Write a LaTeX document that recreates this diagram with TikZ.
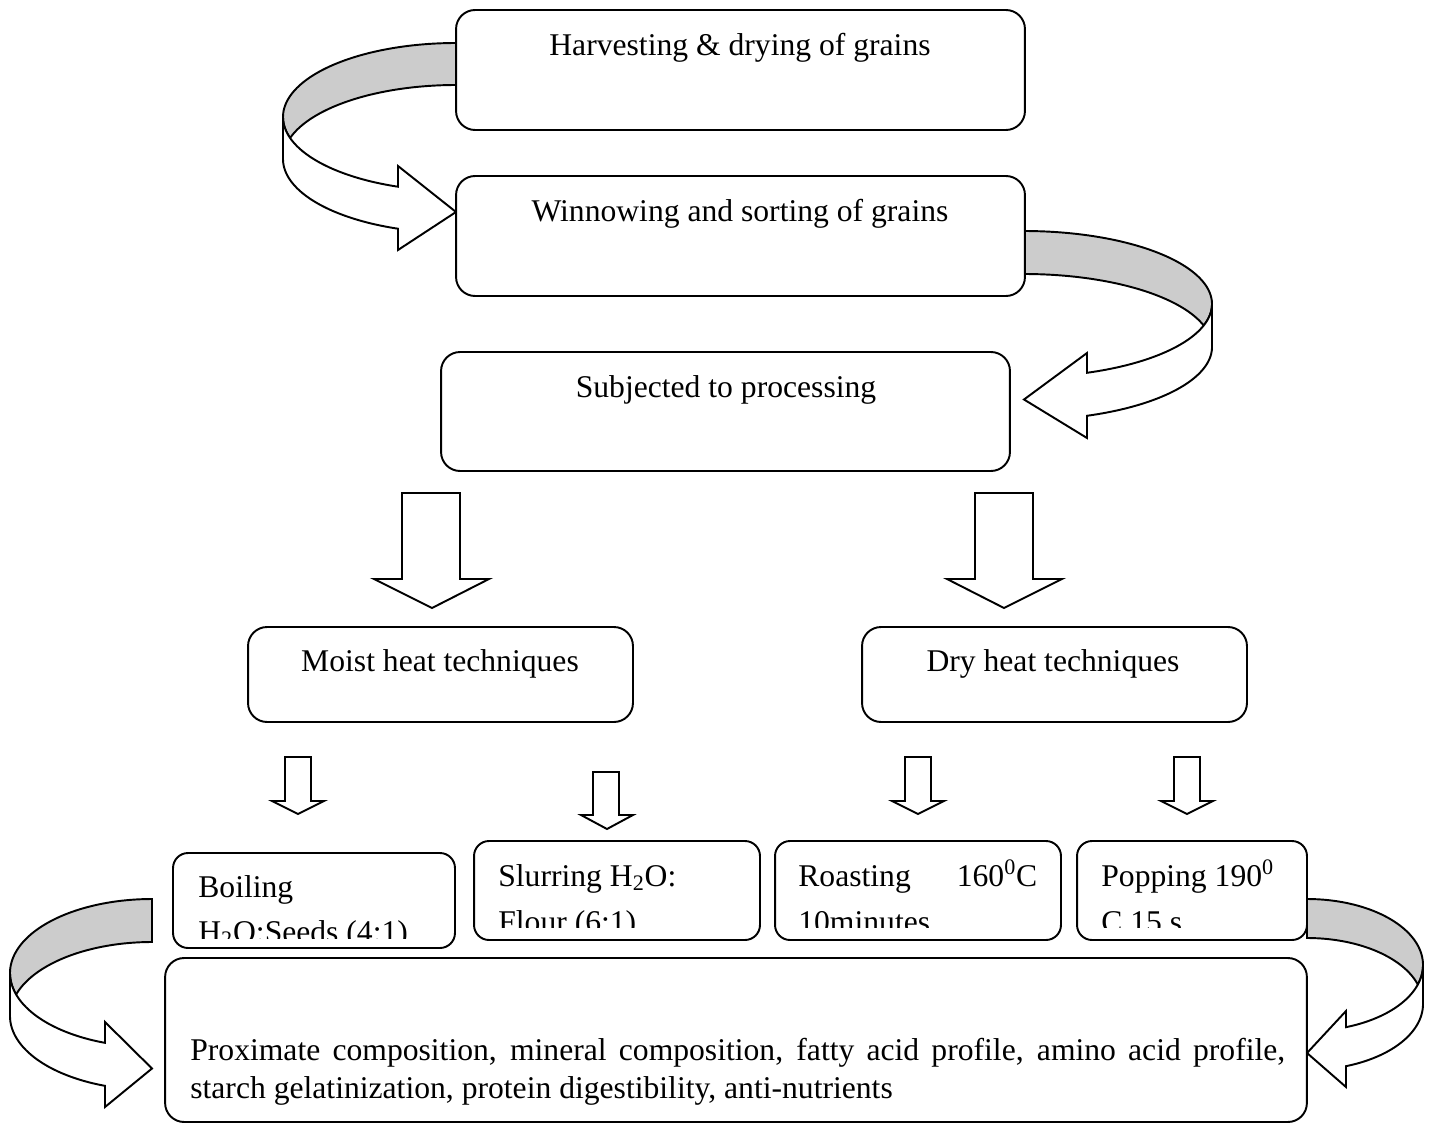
\documentclass[tikz,border=0pt]{standalone}
\usepackage{fontspec}
\setmainfont{Liberation Serif}
\definecolor{ribbongray}{HTML}{CCCCCC}
\tikzset{
  box/.style={draw, rectangle, rounded corners=0.38cm, line width=1.1pt, fill=white, inner sep=0pt},
  sbox/.style={box, rounded corners=0.3cm},
  lbl/.style={inner sep=0pt, anchor=base, font=\fontsize{18}{22}\selectfont},
  lblw/.style={inner sep=0pt, anchor=base west, font=\fontsize{18}{22}\selectfont},
  blockline/.style={line width=1.1pt, line join=miter}
}
% curved block arrow: cx, cy, dir, rx, ry, thickness, head-back x, barb top y, barb bottom y
\newcommand{\cArrowShape}[9]{%
  \pgfmathsetmacro\cAtone{acos(-(#6)/(2*(#5)))}%
  \pgfmathsetmacro\cAttwo{180-\cAtone}%
  \pgfmathsetmacro\cAthead{180-asin(abs((#7)-(#1))/(#4))}%
  \pgfmathsetmacro\cAtip{((#8)+(#9))/2+4}%
  \filldraw[blockline, fill=ribbongray]
    plot[domain=0:\cAtone, samples=60, variable=\t] ({#1+(#3)*#4*sin(\t)},{#2-#5*cos(\t)})
    -- plot[domain=\cAttwo:0, samples=60, variable=\t] ({#1+(#3)*#4*sin(\t)},{#2+#6-#5*cos(\t)})
    -- cycle;
  \filldraw[blockline, fill=white]
    ({#1+(#3)*#4},{#2}) -- ({#1+(#3)*#4},{#2+#6})
    -- plot[domain=90:\cAthead, samples=60, variable=\t] ({#1+(#3)*#4*sin(\t)},{#2+#6-#5*cos(\t)})
    -- (#7,#9) -- (#1,\cAtip) -- (#7,#8)
    -- plot[domain=\cAthead:90, samples=60, variable=\t] ({#1+(#3)*#4*sin(\t)},{#2-#5*cos(\t)})
    -- cycle;
}
% straight down block arrow: shaft left, shaft right, top, shaft bottom, head left, head right, tip x, tip y
\newcommand{\dArrowShape}[8]{%
  \filldraw[blockline, fill=white] (#1,#3) -- (#2,#3) -- (#2,#4) -- (#6,#4) -- (#7,#8) -- (#5,#4) -- (#1,#4) -- cycle;
}
\begin{document}
\begin{tikzpicture}[x=0.02cm, y=-0.02cm]
\useasboundingbox (0,0) rectangle (1436,1132);

% curved arrows
\cArrowShape{456}{117}{-1}{173}{74}{42}{398}{166}{250}
\cArrowShape{1024}{304}{1}{188}{73}{43}{1087}{353}{438}
\cArrowShape{152}{973}{-1}{142}{74}{43}{105}{1022}{1107}
\cArrowShape{1307}{965}{1}{116}{66}{39}{1346}{1011}{1087}

% boxes
\node[box, minimum width=11.38cm, minimum height=2.4cm] (harvest) at (740.5,70) {};
\node[box, minimum width=11.38cm, minimum height=2.4cm] (winnow) at (740.5,236) {};
\node[box, minimum width=11.38cm, minimum height=2.38cm] (process) at (725.5,411.5) {};
\node[box, minimum width=7.7cm, minimum height=1.9cm] (moist) at (440.5,674.5) {};
\node[box, minimum width=7.7cm, minimum height=1.9cm] (dry) at (1054.5,674.5) {};
\node[sbox, minimum width=5.64cm, minimum height=1.9cm] (boil) at (314,900.5) {};
\node[sbox, minimum width=5.72cm, minimum height=1.98cm] (slur) at (617,890.5) {};
\node[sbox, minimum width=5.72cm, minimum height=1.98cm] (roast) at (918,890.5) {};
\node[sbox, minimum width=4.6cm, minimum height=1.98cm] (pop) at (1192,890.5) {};
\node[box, minimum width=22.84cm, minimum height=3.28cm] (analysis) at (736,1040) {};

% straight block arrows
\dArrowShape{402}{460}{493}{579}{374}{489}{432}{608}
\dArrowShape{975}{1033}{493}{579}{947}{1062}{1004}{608}
\dArrowShape{285}{311}{757}{801}{272}{324}{298}{814}
\dArrowShape{593}{619}{772}{815}{581}{633}{607}{829}
\dArrowShape{905}{931}{757}{801}{892}{944}{918}{814}
\dArrowShape{1174}{1200}{757}{801}{1161}{1213}{1187}{814}

% texts
\node[lbl] (tHarvest) at (740,56) {Harvesting \& drying of grains};
\node[lbl] (tWinnow) at (740,221) {Winnowing and sorting of grains};
\node[lbl] (tProcess) at (726,397) {Subjected to processing};
\node[lbl] (tMoist) at (440,671) {Moist heat techniques};
\node[lbl] (tDry) at (1053,671) {Dry heat techniques};

\begin{scope}
  \clip (173,853) rectangle (455,938);
  \node[lblw] (tBoilA) at (198,897) {Boiling};
  \node[lblw] (tBoilB) at (198,942) {H\textsubscript{2}O:Seeds (4:1)};
\end{scope}
\begin{scope}
  \clip (474,841) rectangle (760,927);
  \node[lblw] (tSlurA) at (498,886) {Slurring H\textsubscript{2}O:};
  \node[lblw] (tSlurB) at (498,932) {Flour (6:1)};
\end{scope}
\begin{scope}
  \clip (775,841) rectangle (1061,927);
  \node[lblw] (tRoastA) at (798,886) {\makebox[4.78cm][s]{Roasting 160\textsuperscript{0}C}};
  \node[lblw] (tRoastB) at (798,932) {10minutes};
\end{scope}
\begin{scope}
  \clip (1077,841) rectangle (1307,927);
  \node[lblw] (tPopA) at (1101,886) {Popping 190\textsuperscript{0}};
  \node[lblw] (tPopB) at (1101,932) {C 15 s};
\end{scope}

\node[lblw] (tAnaA) at (190,1060) {\makebox[21.9cm][s]{Proximate composition, mineral composition, fatty acid profile, amino acid profile,}};
\node[lblw] (tAnaB) at (190,1098) {starch gelatinization, protein digestibility, anti-nutrients};
\end{tikzpicture}
\end{document}
